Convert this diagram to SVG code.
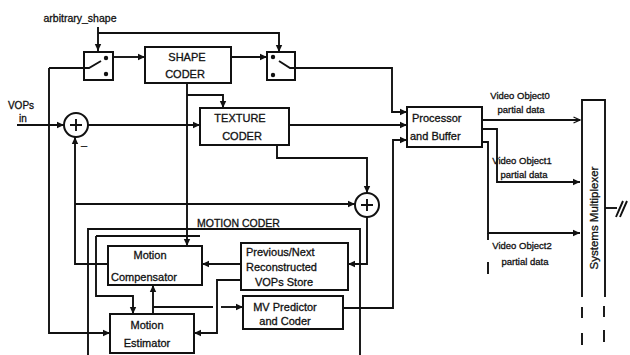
<svg xmlns="http://www.w3.org/2000/svg" width="630" height="355" viewBox="0 0 630 355">
<defs>
<marker id="ah" markerWidth="8" markerHeight="8" refX="7" refY="4" orient="auto" markerUnits="userSpaceOnUse"><path d="M0,0.8 L7,4 L0,7.2 Z" fill="#111"/></marker>
<marker id="ao" markerWidth="9" markerHeight="9" refX="7" refY="4" orient="auto" markerUnits="userSpaceOnUse"><path d="M0.5,1 L7,4 L0.5,7" fill="none" stroke="#111" stroke-width="1.3"/></marker>
</defs>
<style>
.b{fill:#fff;stroke:#111;stroke-width:2}
.l{fill:none;stroke:#111;stroke-width:1.9}
.a{fill:none;stroke:#111;stroke-width:1.9;marker-end:url(#ah)}
text{font-family:"Liberation Sans",Arial,sans-serif;fill:#111;font-size:11px;stroke:#111;stroke-width:0.3}
.s{font-size:9.5px}
.c{text-anchor:middle}
</style>
<rect width="630" height="355" fill="#fff"/>
<g id="connectors">
<path class="a" d="M98,27 V51"/>
<path class="a" d="M98,33 H279 V52"/>
<path class="a" d="M113,57 H145"/>
<path class="a" d="M231,57 H267"/>
<path class="a" d="M295,68 H392 V112 H407"/>
<path class="l" d="M84,68 H49"/>
<path class="a" d="M49,68 V333 H110"/>
<path class="a" d="M187,83 V246"/>
<path class="a" d="M187,95 H223 V108"/>
<path class="a" d="M17,125 H64"/>
<path class="a" d="M88,125 H200"/>
<path class="a" d="M289,125 H407"/>
<path class="a" d="M277,145 V158 H367 V193"/>
<path class="a" d="M108,264 H75 V137"/>
<path class="a" d="M75,204 H355"/>
<path class="a" d="M367,217 V264 H348"/>
<path class="a" d="M241,264 H202"/>
<path class="a" d="M241,280 H217 V333 H194"/>
<path class="a" d="M153,314 V285"/>
<path class="l" d="M153,307 H213"/>
<path class="a" d="M221,307 H243"/>
<path class="a" d="M343,308 H393 V140 H407"/>
<path class="l" d="M88,355 V229 H360 V355"/>
<path class="l" d="M96,236 H200"/>
<path class="a" d="M96,236 V296 H133 V314"/>
<path class="l" d="M482,120 H580" marker-end="url(#ao)"/>
<path class="a" d="M482,129 H497 V182 H580"/>
<path class="a" d="M482,142 H488 V233 H580"/>
<path class="l" d="M488,233 V240 M488,262 V274"/>
<path class="l" d="M605,208 H617"/>
<path class="l" d="M616,217 Q619,210 623,201 M620,217 Q623,210 627,201"/>
</g>
<text x="80" y="22" class="c" style="font-size:10.5px">arbitrary_shape</text>
<text x="21" y="109" class="c" style="font-size:10px">VOPs</text>
<text x="23" y="122" class="c" style="font-size:10px">in</text>
<text x="84" y="149" class="c">–</text>
<g id="switch1">
<rect class="b" x="84" y="52" width="29" height="28"/>
<circle cx="106" cy="58" r="2.2" fill="#111"/>
<circle cx="106" cy="74" r="2.2" fill="#111"/>
<path class="l" d="M84,68 H89 L101,61"/>
</g>
<g id="switch2">
<rect class="b" x="267" y="52" width="28" height="28"/>
<circle cx="273" cy="57" r="2.2" fill="#111"/>
<circle cx="273" cy="75" r="2.2" fill="#111"/>
<path class="l" d="M279,61 L290,68 H295"/>
</g>
<g id="shape-coder">
<rect class="b" x="145" y="47" width="86" height="36"/>
<text x="187" y="61" class="c">SHAPE</text>
<text x="185" y="78" class="c">CODER</text>
</g>
<g id="texture-coder">
<rect class="b" x="200" y="108" width="89" height="37"/>
<text x="240" y="122" class="c">TEXTURE</text>
<text x="242" y="140" class="c">CODER</text>
</g>
<g id="subtractor">
<circle cx="76" cy="125" r="12" fill="#fff" stroke="#111" stroke-width="2"/>
<path class="l" d="M76,119 V131 M70,125 H82"/>
</g>
<g id="adder">
<circle cx="367" cy="205" r="12" fill="#fff" stroke="#111" stroke-width="2"/>
<path class="l" d="M367,199 V211 M361,205 H373"/>
</g>
<g id="processor">
<rect class="b" x="407" y="107" width="75" height="40"/>
<text x="412" y="122">Processor</text>
<text x="410" y="140">and Buffer</text>
</g>
<text x="197" y="227" style="font-size:10.5px">MOTION CODER</text>
<g id="motion-compensator">
<rect class="b" x="108" y="246" width="94" height="39"/>
<text x="150" y="259" class="c">Motion</text>
<text x="111" y="281">Compensator</text>
</g>
<g id="motion-estimator">
<rect class="b" x="110" y="314" width="84" height="39"/>
<text x="147" y="329" class="c">Motion</text>
<text x="147" y="347" class="c">Estimator</text>
</g>
<g id="vop-store">
<rect class="b" x="241" y="243" width="107" height="47"/>
<text x="246" y="256">Previous/Next</text>
<text x="246" y="271">Reconstructed</text>
<text x="284" y="286" class="c">VOPs Store</text>
</g>
<g id="mv-predictor">
<rect class="b" x="243" y="296" width="100" height="33"/>
<text x="285" y="311" class="c">MV Predictor</text>
<text x="285" y="325" class="c">and Coder</text>
</g>
<g id="labels">
<text x="520" y="99" class="c s">Video Object0</text>
<text x="521" y="113" class="c s">partial data</text>
<text x="522" y="164" class="c s">Video Object1</text>
<text x="524" y="178" class="c s">partial data</text>
<text x="522" y="249" class="c s">Video Object2</text>
<text x="525" y="265" class="c s">partial data</text>
</g>
<g id="multiplexer">
<path class="l" d="M582,297 V100 H605 V297"/>
<path class="l" d="M582,307 V318 M582,333 V345 M604,306 V317 M604,330 V342"/>
<text x="598" y="218" class="c" transform="rotate(-90 598 218)" style="font-size:11.5px">Systems Multiplexer</text>
</g>
</svg>
